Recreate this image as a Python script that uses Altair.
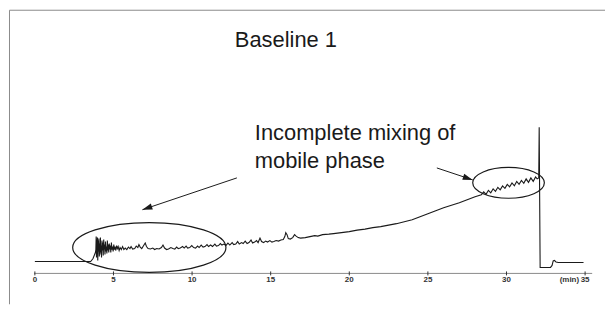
import altair as alt
import pandas as pd

# ---- chromatogram trace, segments of (retention time [min], detector signal [a.u.]) ----
pre_injection = [(0.0, 12), (3.55, 12), (3.70, 15), (3.85, 21)]

mixing_burst = [
    (3.88, 24), (3.90, 37), (3.92, 16), (3.94, 34), (3.96, 20), (3.98, 36),
    (4.00, 13), (4.03, 33), (4.05, 22), (4.07, 35), (4.10, 17), (4.12, 30),
    (4.14, 19), (4.17, 36), (4.19, 21), (4.22, 28), (4.24, 16), (4.27, 33),
    (4.30, 23), (4.32, 31), (4.35, 18), (4.38, 34), (4.40, 24), (4.43, 29),
    (4.46, 19), (4.49, 32), (4.52, 22), (4.55, 27), (4.58, 20), (4.61, 33),
    (4.64, 23), (4.67, 29), (4.70, 21), (4.73, 30), (4.77, 24), (4.80, 28),
    (4.83, 21), (4.87, 31), (4.90, 24), (4.94, 27), (4.98, 22), (5.02, 29),
    (5.06, 24), (5.10, 27), (5.15, 23), (5.20, 28), (5.25, 25), (5.30, 27),
    (5.36, 23), (5.42, 26), (5.50, 24), (5.58, 27), (5.66, 24),
]

early_drift = [
    (5.75, 25.5), (5.85, 24), (5.95, 26.5), (6.05, 25), (6.12, 27), (6.22, 24.5),
    (6.35, 25), (6.45, 27.5), (6.55, 26), (6.62, 29), (6.70, 26.5), (6.80, 25),
    (6.92, 28), (7.02, 30.5), (7.10, 27), (7.20, 25), (7.35, 24.5), (7.50, 25.5),
    (7.62, 24), (7.75, 25), (7.90, 24.5), (8.05, 26), (8.15, 28.5), (8.25, 25.5),
    (8.38, 24), (8.50, 24.5), (8.65, 26), (8.78, 25), (8.90, 24.5), (9.02, 26.5),
    (9.12, 25), (9.25, 25.5), (9.40, 27), (9.50, 25.5), (9.62, 27.5), (9.72, 25.5),
    (9.85, 26), (9.98, 28), (10.10, 26), (10.22, 25.5), (10.35, 27.5), (10.45, 26),
    (10.58, 28.5), (10.70, 26.5), (10.82, 27), (10.95, 29), (11.05, 27), (11.18, 28.5),
    (11.30, 27), (11.45, 29.5), (11.55, 27.5), (11.68, 28), (11.80, 30), (11.90, 28.5),
    (12.02, 29.5), (12.15, 28), (12.28, 30.5), (12.40, 28.5), (12.55, 31), (12.65, 29),
    (12.78, 29.5), (12.90, 32), (13.00, 29.5), (13.15, 31), (13.25, 30), (13.38, 32.5),
    (13.50, 30), (13.62, 31), (13.75, 33.5), (13.85, 30.5), (13.98, 31.5), (14.10, 33),
    (14.20, 31), (14.32, 35.5), (14.42, 32), (14.55, 31), (14.68, 32.5), (14.80, 31.5),
    (14.95, 33), (15.08, 31.5), (15.20, 32), (15.35, 33), (15.50, 32.5), (15.65, 33.5),
    (15.80, 34), (15.90, 37), (15.96, 41), (16.04, 39), (16.12, 35), (16.25, 34.5),
    (16.40, 36), (16.52, 39), (16.62, 37.5), (16.75, 36), (16.90, 35.5),
]

mid_drift = [
    (17.2, 36), (17.5, 37), (17.8, 38), (18.0, 37.5), (18.3, 39), (18.7, 39.5),
    (19.0, 40), (19.5, 41), (20.0, 42), (20.5, 43.5), (21.0, 44.5), (21.5, 46),
    (22.0, 47), (22.5, 48.5), (23.0, 50), (23.5, 52), (24.0, 54), (24.5, 57),
    (25.0, 60), (25.5, 63), (26.0, 66), (26.5, 68.5), (27.0, 71), (27.5, 74),
    (28.0, 77), (28.4, 79),
]

gradient_ripple = [
    (28.55, 82), (28.70, 79.5), (28.85, 83.5), (29.00, 81), (29.15, 85),
    (29.30, 82.5), (29.45, 86.5), (29.60, 84), (29.75, 88), (29.90, 85.5),
    (30.05, 89.5), (30.20, 87), (30.35, 91), (30.50, 88), (30.65, 92.5),
    (30.80, 89.5), (30.95, 93.5), (31.10, 90.5), (31.25, 95), (31.40, 91.5),
    (31.55, 96), (31.70, 92.5), (31.85, 97), (31.95, 95), (32.05, 96),
]

flush = [
    (32.08, 147), (32.14, 6), (32.80, 6), (32.90, 8), (32.97, 12.5),
    (33.05, 13), (33.15, 11.5), (33.30, 11), (34.90, 11),
]

# ---- axis ----
tick_values = [0, 5, 10, 15, 20, 25, 30, 35]
tick_labels = ["0", "5", "10", "15", "20", "25", "30", "35"]
axis_unit = "(min)"

# ---- annotation texts ----
title_text = "Baseline 1"
note_lines = ["Incomplete mixing of", "mobile phase"]

# ---------------------------------------------------------------------------
FONT = "Liberation Sans"
W, H = 600, 297
PX_PER_MIN = 15.8
t_min = -27 / PX_PER_MIN
t_max = t_min + W / PX_PER_MIN
v_max = 266
v_min = v_max - H

xs = alt.Scale(domain=[t_min, t_max], nice=False, zero=False)
ys = alt.Scale(domain=[v_min, v_max], nice=False, zero=False)
X = lambda f: alt.X(f, type="quantitative", scale=xs, axis=None)
Y = lambda f: alt.Y(f, type="quantitative", scale=ys, axis=None)

trace = pre_injection + mixing_burst + early_drift + mid_drift + gradient_ripple + flush
trace_df = pd.DataFrame(trace, columns=["t", "v"])
trace_df["i"] = range(len(trace_df))

line = alt.Chart(trace_df).mark_line(color="#1a1a1a", strokeWidth=1.1).encode(
    x=X("t"), y=Y("v"), order=alt.Order("i:Q")
)

# frame (open at right/bottom, as cropped in the original)
one = pd.DataFrame({"k": [0]})
frame_v = alt.Chart(one).mark_rule(color="#8a8a8a", strokeWidth=1).encode(
    x=alt.value(1.5), y=alt.value(1.5), y2=alt.value(H)
)
frame_h = alt.Chart(one).mark_rule(color="#8a8a8a", strokeWidth=1).encode(
    x=alt.value(1.5), x2=alt.value(W), y=alt.value(1.5)
)

# axis drawn from the tick list
axis_df = pd.DataFrame({"t0": [tick_values[0] - 0.05], "t1": [tick_values[-1] + 0.45], "v": [0]})
axis_line = alt.Chart(axis_df).mark_rule(color="#8a8a8a", strokeWidth=1).encode(
    x=X("t0"), x2="t1", y=Y("v")
)
ticks_df = pd.DataFrame({"t": tick_values, "lab": tick_labels, "lo": -2, "hi": 2, "ly": -9})
ticks = alt.Chart(ticks_df).mark_rule(color="#333333", strokeWidth=1).encode(
    x=X("t"), y=Y("lo"), y2="hi"
)
tick_text = alt.Chart(ticks_df).mark_text(
    font=FONT, fontSize=8, fontWeight="bold", color="#333333", baseline="alphabetic", align="center"
).encode(x=X("t"), y=Y("ly"), text="lab:N")
unit_df = pd.DataFrame({"t": [tick_values[-1] - 0.38], "ly": [-9], "lab": [axis_unit]})
unit_text = alt.Chart(unit_df).mark_text(
    font=FONT, fontSize=8, fontWeight="bold", color="#333333", baseline="alphabetic", align="right"
).encode(x=X("t"), y=Y("ly"), text="lab:N")

# ellipses around the disturbed regions
ell_df = pd.DataFrame({
    "t": [7.28, 30.13],
    "v": [26, 91],
    "shape": [
        "M -1 0 A 1 0.325 0 1 1 1 0 A 1 0.325 0 1 1 -1 0 Z",
        "M -1 0 A 1 0.43 0 1 1 1 0 A 1 0.43 0 1 1 -1 0 Z",
    ],
    "size": [154 ** 2, 72 ** 2],
})
ellipses = alt.Chart(ell_df).mark_point(
    filled=False, color="#1a1a1a", strokeWidth=1.2, opacity=1
).encode(
    x=X("t"), y=Y("v"),
    shape=alt.Shape("shape:N", scale=None),
    size=alt.Size("size:Q", scale=None),
)

# arrows
arrow_df = pd.DataFrame({
    "t0": [12.85, 25.57], "v0": [96, 106],
    "t1": [6.84, 27.85], "v1": [64, 94],
    "ang": [251.4, 108.4],
})
arrow_lines = alt.Chart(arrow_df).mark_rule(color="#1a1a1a", strokeWidth=1).encode(
    x=X("t0"), y=Y("v0"), x2="t1", y2="v1"
)
arrow_heads = alt.Chart(arrow_df).mark_point(
    shape="M 0 0 L 0.32 1 L -0.32 1 Z", filled=True, color="#1a1a1a", opacity=1, size=400
).encode(x=X("t1"), y=Y("v1"), angle=alt.Angle("ang:Q", scale=None))

# texts
txt_df = pd.DataFrame({
    "t": [12.72, 13.99, 13.99],
    "v": [228, 134, 106],
    "txt": [title_text] + note_lines,
})
texts = alt.Chart(txt_df).mark_text(
    font=FONT, fontSize=22, color="#1a1a1a", align="left", baseline="alphabetic"
).encode(x=X("t"), y=Y("v"), text="txt:N")

chart = alt.layer(
    frame_v, frame_h, axis_line, ticks, tick_text, unit_text,
    line, ellipses, arrow_lines, arrow_heads, texts
).properties(
    width=W, height=H, padding=0,
    autosize=alt.AutoSizeParams(type="none"),
    background="white",
).configure_view(stroke=None)

chart.save("out.html", embed_options={"renderer": "svg", "actions": False})
